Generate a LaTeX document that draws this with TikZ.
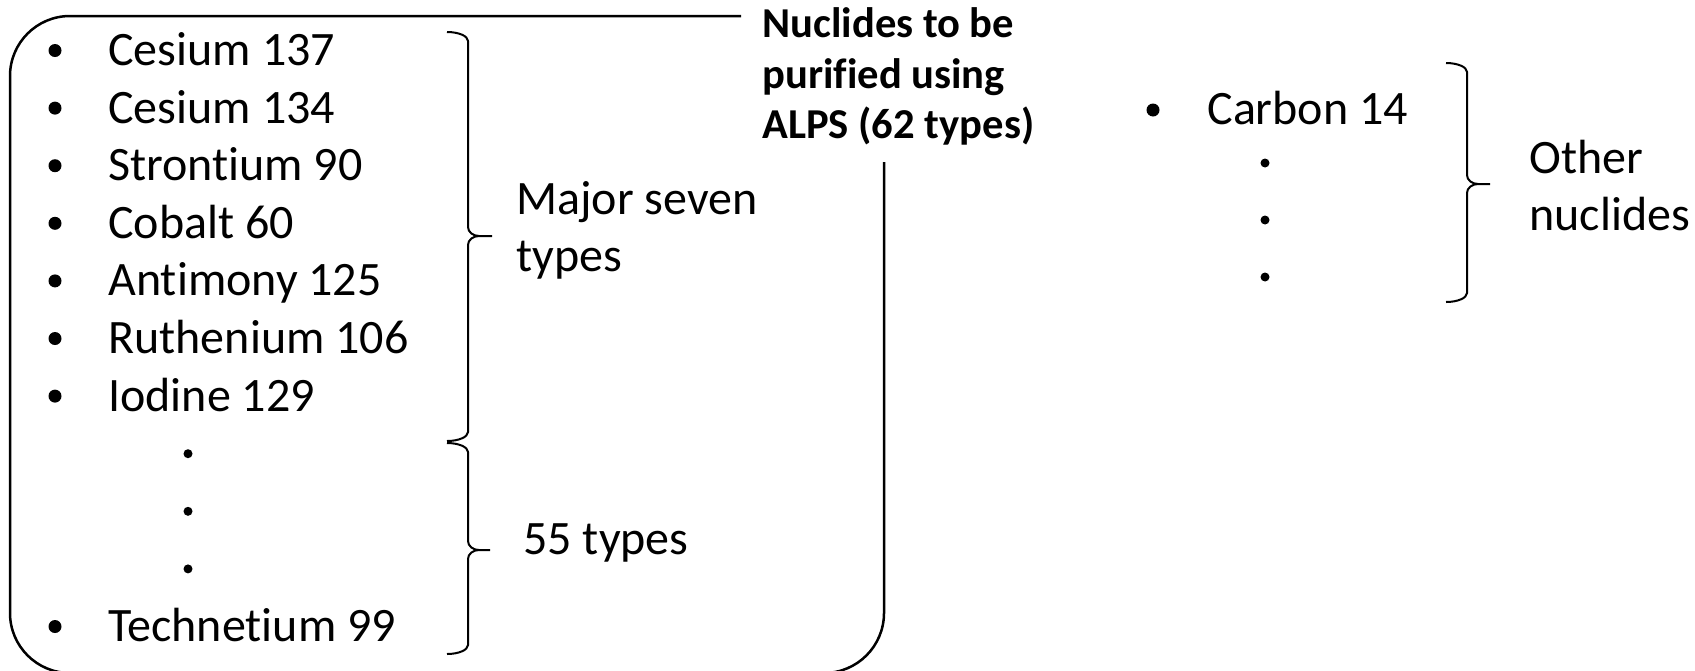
\documentclass[tikz,border=0pt]{standalone}
\usepackage{fontspec}
\setmainfont{Carlito}[Ligatures={NoCommon}]
\newcommand{\mybrace}[6]{% hook-x, vertical-x, tip-x, top, tip-y, bottom
  \draw[brc] (#1,#4) .. controls ({#1+0.55*(#2-#1)},#4) and (#2,#4+4) .. (#2,#4+9)
    -- (#2,#5-9) .. controls (#2,#5-4) and ({#2+5},#5) .. ({#2+11},#5) -- (#3,#5)
    -- ({#2+11},#5) .. controls ({#2+5},#5) and (#2,#5+4) .. (#2,#5+9)
    -- (#2,#6-9) .. controls (#2,#6-4) and ({#1+0.55*(#2-#1)},#6) .. (#1,#6);}
\begin{document}
\begin{tikzpicture}[x=0.5pt,y=-0.5pt,
  lbl/.style={anchor=base west,inner sep=0pt,font=\fontsize{24}{29}\selectfont},
  ttl/.style={anchor=base west,inner sep=0pt,font=\fontsize{21.3}{26}\selectfont\bfseries},
  bul/.style={fill=black},
  brc/.style={line width=1pt},
  frame/.style={line width=1.25pt,rounded corners=30pt}]
\useasboundingbox (0,0) rectangle (1695,670);

% frame around the 62 purified nuclides
\draw[frame] (741,16) -- (10,16) -- (10,673) -- (884,673) -- (884,162);

% title
\node[ttl] (t1) at (762,37) {Nuclides to be};
\node[ttl] (t2) at (762,88) {purified using};
\node[ttl] (t3) at (762,138) {ALPS (62 types)};

% list
\foreach \i/\txt/\nm in {0/Cesium 137/cs137,1/Cesium 134/cs134,2/Strontium 90/sr90,
    3/Cobalt 60/co60,4/Antimony 125/sb125,5/Ruthenium 106/ru106,6/Iodine 129/i129,
    10/Technetium 99/tc99}{
  \fill[bul] (55,{50.5+57.6*\i}) circle (6.5);
  \node[lbl] (\nm) at (108,{65.5+57.6*\i}) {\txt};
}
\foreach \i in {7,8,9}{
  \fill[bul] (188,{50.5+57.6*\i}) circle (4.5);
}

% braces and labels
\mybrace{447}{468}{492}{32}{236}{441}
\node[lbl] (maj1) at (516,214) {Major seven};
\node[lbl] (maj2) at (516,271.5) {types};
\mybrace{447}{468}{490}{443}{550}{654}
\node[lbl] (t55) at (523,554) {55 types};

% other nuclides
\fill[bul] (1153,110) circle (6.5);
\node[lbl] (c14) at (1207,124.5) {Carbon 14};
\foreach \y in {163,220,277}{
  \fill[bul] (1265,\y) circle (4.5);
}
\mybrace{1446}{1467}{1490}{63}{184}{302}
\node[lbl] (oth1) at (1529,173) {Other};
\node[lbl] (oth2) at (1529,230) {nuclides};
\end{tikzpicture}
\end{document}
